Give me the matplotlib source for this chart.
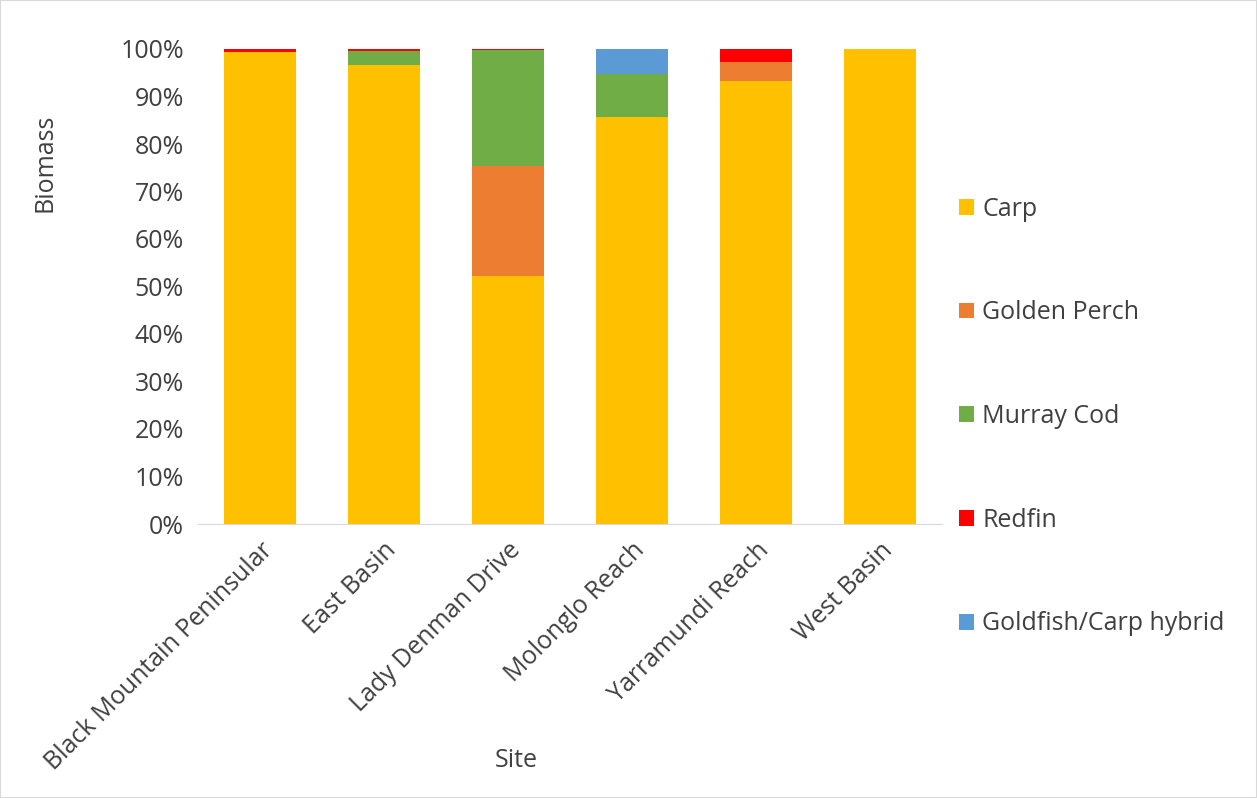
import matplotlib.pyplot as plt
import numpy as np
from matplotlib.ticker import PercentFormatter

plt.rcParams['font.family'] = ['Open Sans', 'DejaVu Sans']

# Данные
sites = ['Black Mountain Peninsular', 'East Basin', 'Lady Denman Drive',
         'Molonglo Reach', 'Yarramundi Reach', 'West Basin']
carp = [0.993, 0.966, 0.522, 0.857, 0.933, 1.0]
golden_perch = [0.0, 0.0, 0.232, 0.0, 0.040, 0.0]
murray_cod = [0.0, 0.029, 0.244, 0.091, 0.0, 0.0]
redfin = [0.007, 0.005, 0.002, 0.0, 0.027, 0.0]
goldfish = [0.0, 0.0, 0.0, 0.052, 0.0, 0.0]

series = [
    ('Carp', carp, '#FFC000'),
    ('Golden Perch', golden_perch, '#ED7D31'),
    ('Murray Cod', murray_cod, '#70AD47'),
    ('Redfin', redfin, '#FF0000'),
    ('Goldfish/Carp hybrid', goldfish, '#5B9BD5'),
]

FS = 18

fig = plt.figure(figsize=(12.57, 7.98), dpi=100)
ax = fig.add_axes([198 / 1257, 1 - 524 / 798, 744 / 1257, 475 / 798])

x = np.arange(len(sites))
bottom = np.zeros(len(sites))
for name, vals, col in series:
    ax.bar(x, vals, width=0.58, bottom=bottom, color=col, label=name)
    bottom += np.array(vals)

ax.set_xlim(-0.5, len(sites) - 0.5)
ax.set_ylim(0, 1)
ax.set_yticks(np.arange(0, 1.01, 0.1))
ax.yaxis.set_major_formatter(PercentFormatter(1.0, decimals=0))
ax.set_xticks(x)
ax.set_xticklabels(sites, rotation=45, ha='right', rotation_mode='anchor')

for s in ['top', 'right', 'left']:
    ax.spines[s].set_visible(False)
ax.spines['bottom'].set_color('#D9D9D9')
ax.tick_params(axis='both', length=0, labelsize=FS, colors='#404040', pad=10)
ax.tick_params(axis='x', pad=10)

ax.set_ylabel('Biomass', fontsize=FS, color='#404040')
ax.set_xlabel('Site', fontsize=FS, color='#404040')
ax.xaxis.set_label_coords((516 - 198) / 744, -(748 - 524) / 475)
ax.yaxis.set_label_coords(-(198 - 57) / 744, (524 - 163) / 475)

ax.legend(loc='upper left', bbox_to_anchor=(936 / 1257, 1 - 174 / 798),
          bbox_transform=fig.transFigure, frameon=False, fontsize=FS,
          labelcolor='#404040', handlelength=0.6, handleheight=0.6,
          handletextpad=0.35, labelspacing=3.15)

fig.patches.append(plt.Rectangle((0, 0), 1, 1, transform=fig.transFigure,
                                 fill=False, edgecolor='#D9D9D9', lw=1.5))

plt.savefig('out.png', dpi=100)
